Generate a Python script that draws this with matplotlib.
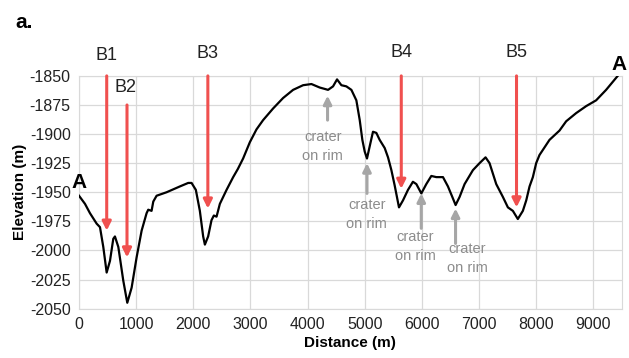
# Elevation profile A-A with basin markers B1-B5 and craters on rim

import matplotlib.pyplot as plt

plt.rcParams['font.family'] = ['Liberation Sans', 'DejaVu Sans']
plt.rcParams['axes.unicode_minus'] = False

# profile
distance = [0, 105, 192, 309, 367, 425, 484, 542, 600, 629, 688, 775, 845, 921,
            1008, 1096, 1183, 1212, 1270, 1300, 1358, 1533, 1766, 1911, 1970,
            2045, 2115, 2173, 2203, 2260, 2319, 2360, 2407, 2465, 2582, 2698,
            2780, 2872, 2990, 3106, 3222, 3397, 3572, 3747, 3922, 4068, 4213,
            4359, 4446, 4516, 4592, 4679, 4767, 4854, 4913, 4959, 5000, 5040,
            5099, 5145, 5204, 5262, 5350, 5408, 5467, 5524, 5600, 5670, 5757,
            5844, 5904, 5991, 6078, 6166, 6253, 6370, 6457, 6533, 6591, 6661,
            6748, 6894, 7010, 7115, 7185, 7302, 7418, 7506, 7593, 7680, 7768,
            7827, 7885, 7943, 8001, 8059, 8234, 8409, 8526, 8700, 8875, 9050,
            9225, 9428]
elevation = [-1953, -1960, -1968, -1977, -1980, -1997, -2019, -2009, -1990,
             -1988, -1997, -2026, -2045, -2032, -2006, -1983, -1968, -1965,
             -1966, -1958, -1953, -1950, -1945, -1942, -1942, -1948, -1966,
             -1988, -1995, -1988, -1974, -1970, -1971, -1960, -1948, -1937,
             -1930, -1921, -1907, -1896, -1888, -1878, -1869, -1862, -1858,
             -1857, -1860, -1862, -1859, -1853, -1858, -1859, -1862, -1871,
             -1888, -1905, -1915, -1921, -1908, -1898, -1899, -1905, -1912,
             -1920, -1931, -1944, -1963, -1957, -1948, -1941, -1943, -1951,
             -1943, -1936, -1937, -1937, -1945, -1954, -1961, -1954, -1943,
             -1931, -1925, -1920, -1925, -1943, -1954, -1963, -1966, -1973,
             -1966, -1957, -1945, -1937, -1925, -1918, -1905, -1897, -1889,
             -1882, -1876, -1871, -1862, -1850]

# red basin arrows
basin_names = ['B1', 'B2', 'B3', 'B4', 'B5']
basin_x = [485, 840, 2255, 5640, 7657]
basin_top = [-1850, -1875, -1850, -1850, -1850]
basin_tip = [-1983, -2006, -1964, -1947, -1963]
basin_label_x = [485, 820, 2255, 5640, 7657]
basin_label_y = [-1840, -1867, -1838, -1837, -1837]

# grey crater arrows
crater_x = [4350, 5040, 5990, 6590]
crater_tip = [-1867, -1925, -1951, -1964]
crater_tail = [-1888, -1951, -1981, -1994]
crater_text_x = [4265, 5035, 5890, 6800]
crater_text_y = [-1911, -1969, -1997, -2007]

fig = plt.figure(figsize=(6.29, 3.58), dpi=100)
ax = fig.add_axes([0.1256, 0.138, 0.863, 0.650])

grid_c = '#d9d9d9'
ax.plot(distance, elevation, color='black', lw=1.6, zorder=3)

for name, x, top, tip, lx, ly in zip(basin_names, basin_x, basin_top, basin_tip,
                                     basin_label_x, basin_label_y):
    ax.annotate('', xy=(x, tip), xytext=(x, top),
                arrowprops=dict(arrowstyle='-|>', color='#f0504f', lw=2.2,
                                mutation_scale=13, shrinkA=0, shrinkB=0),
                zorder=4)
    ax.text(lx, ly, name, ha='center', va='bottom', fontsize=13,
            color='#222222', clip_on=False)

for x, tip, tail, tx, ty in zip(crater_x, crater_tip, crater_tail,
                                crater_text_x, crater_text_y):
    ax.annotate('', xy=(x, tip), xytext=(x, tail),
                arrowprops=dict(arrowstyle='-|>', color='#a6a6a6', lw=2.2,
                                mutation_scale=12, shrinkA=0, shrinkB=0),
                zorder=4)
    ax.text(tx, ty, 'crater\non rim', ha='center', va='center', fontsize=10.5,
            color='#8c8c8c', linespacing=1.45)

ax.text(0, -1942, 'A', ha='center', va='center', fontsize=15,
        fontweight='bold', clip_on=False, zorder=5)
ax.text(9460, -1840, 'A', ha='center', va='center', fontsize=15,
        fontweight='bold', clip_on=False, zorder=5)

ax.set_xlim(0, 9500)
ax.set_ylim(-2050, -1850)
ax.set_xticks(range(0, 9001, 1000))
ax.set_yticks(range(-2050, -1849, 25))
ax.grid(True, color=grid_c, lw=0.9)
ax.set_axisbelow(True)
for s in ax.spines.values():
    s.set_color(grid_c)
ax.tick_params(length=0, labelsize=11.5, colors='#222222', pad=6)
ax.set_xlabel('Distance (m)', fontsize=11, fontweight='bold', labelpad=3)
ax.set_ylabel('Elevation (m)', fontsize=11, fontweight='bold', labelpad=2)

fig.text(0.025, 0.938, 'a.', fontsize=15, fontweight='bold', va='center')

fig.savefig('out.png', dpi=100)
